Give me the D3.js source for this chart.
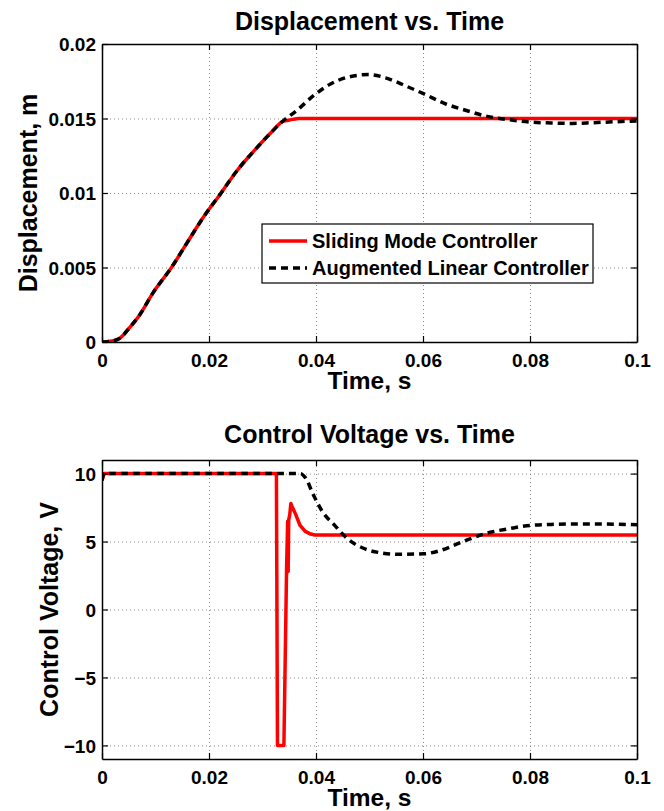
<!DOCTYPE html>
<html>
<head>
<meta charset="utf-8">
<script src="https://cdn.jsdelivr.net/npm/d3@7"></script>
<style>
  body { margin: 0; background: #fff; }
  svg { display: block; font-family: "Liberation Sans", Arial, Helvetica, sans-serif; font-weight: bold; }
</style>
</head>
<body>
<svg id="chart" width="664" height="811"></svg>
<script>
// ---------- data ----------
const xTicks = [0, 0.02, 0.04, 0.06, 0.08, 0.1];
const xTickLabels = ["0", "0.02", "0.04", "0.06", "0.08", "0.1"];
const dispTicks = [0, 0.005, 0.01, 0.015, 0.02];
const dispTickLabels = ["0", "0.005", "0.01", "0.015", "0.02"];
const voltTicks = [-10, -5, 0, 5, 10];
const voltTickLabels = ["\u221210", "\u22125", "0", "5", "10"];
const seriesNames = ["Sliding Mode Controller", "Augmented Linear Controller"];

// displacement, sliding mode
const smcDispT = [0, 0.001, 0.0024, 0.0035, 0.0051, 0.007, 0.0095, 0.0131, 0.0158, 0.019, 0.0222, 0.0253, 0.0285, 0.0317, 0.0336, 0.0348, 0.0356, 0.0368, 0.1];
const smcDispV = [0, 0.00002, 0.0001, 0.0003, 0.00094, 0.0018, 0.00328, 0.00506, 0.0066, 0.0084, 0.00997, 0.01153, 0.01286, 0.01409, 0.01476, 0.01488, 0.01494, 0.015, 0.015];
// displacement, augmented linear
const alcDispT = [0, 0.001, 0.0024, 0.0035, 0.0051, 0.007, 0.0095, 0.0131, 0.0158, 0.019, 0.0222, 0.0253, 0.0285, 0.0317, 0.0336, 0.0364, 0.0396, 0.0428, 0.0459, 0.0499, 0.053, 0.057, 0.0602, 0.0641, 0.0681, 0.072, 0.076, 0.08, 0.0839, 0.0879, 0.0918, 0.0958, 0.1];
const alcDispV = [0, 0.00002, 0.0001, 0.0003, 0.00094, 0.0018, 0.00328, 0.00506, 0.0066, 0.0084, 0.00997, 0.01153, 0.01286, 0.01409, 0.01476, 0.01554, 0.01655, 0.01733, 0.01777, 0.01795, 0.01773, 0.01715, 0.01665, 0.016, 0.01554, 0.01514, 0.01492, 0.01476, 0.0147, 0.01467, 0.01472, 0.01478, 0.01484];

// control voltage, sliding mode
const smcVoltT = [0, 0.0004, 0.0326, 0.0328, 0.034, 0.0345, 0.0347, 0.0348, 0.0349, 0.0351, 0.0353, 0.0355, 0.0362, 0.037, 0.038, 0.039, 0.0398, 0.1];
const smcVoltV = [9.5, 10, 10, -10, -10, 3, 6.5, 2.8, 6.6, 7.0, 7.8, 7.6, 7.0, 6.2, 5.75, 5.55, 5.48, 5.48];
// control voltage, augmented linear
const alcVoltT = [0, 0.0004, 0.0371, 0.038, 0.0396, 0.0412, 0.0435, 0.0459, 0.0491, 0.0523, 0.0554, 0.0602, 0.0633, 0.0665, 0.0697, 0.0728, 0.076, 0.08, 0.0839, 0.0879, 0.0918, 0.0958, 0.1];
const alcVoltV = [9.5, 10, 10, 9.7, 8.36, 7.2, 6.19, 5.2, 4.47, 4.16, 4.06, 4.1, 4.35, 4.84, 5.33, 5.7, 5.94, 6.19, 6.26, 6.3, 6.3, 6.28, 6.23];

// ---------- drawing ----------
const svg = d3.select("#chart");
svg.append("rect").attr("width", 664).attr("height", 811).attr("fill", "#fff");

const RED = "#ff0000";
const DASH = "7,5";
const FONT = "Liberation Sans, Arial, sans-serif";

function panel(opt) {
  const { left, right, top, bottom, yDomain, yTicks, yLabels, title, titleY, ylabel, ylabelX } = opt;
  const w = right - left, h = bottom - top;
  const x = d3.scaleLinear().domain([0, 0.1]).range([0, w]);
  const y = d3.scaleLinear().domain(yDomain).range([h, 0]);
  const g = svg.append("g").attr("transform", `translate(${left},${top})`);

  // grid
  const gx = g.append("g").attr("transform", `translate(0,${h})`)
    .call(d3.axisBottom(x).tickValues(xTicks).tickSize(-h).tickFormat(""));
  const gy = g.append("g")
    .call(d3.axisLeft(y).tickValues(yTicks).tickSize(-w).tickFormat(""));
  [gx, gy].forEach(a => {
    a.select(".domain").remove();
    a.selectAll("line").attr("stroke", "#8a8a8a").attr("stroke-width", 1).attr("stroke-dasharray", "1,3");
  });

  // lines
  const mk = (T, V) => T.map((t, i) => [t, V[i]]);
  const lineLin = d3.line().x(d => x(d[0])).y(d => y(d[1]));
  const lineSmooth = d3.line().x(d => x(d[0])).y(d => y(d[1])).curve(d3.curveMonotoneX);
  const clipId = "clip" + top;
  g.append("clipPath").attr("id", clipId).append("rect").attr("width", w).attr("height", h);
  const plot = g.append("g").attr("clip-path", `url(#${clipId})`);
  plot.append("path").datum(mk(opt.redT, opt.redV))
    .attr("d", opt.redSmooth ? lineSmooth : lineLin)
    .attr("fill", "none").attr("stroke", RED).attr("stroke-width", 3.5).attr("stroke-linejoin", "round");
  plot.append("path").datum(mk(opt.blkT, opt.blkV))
    .attr("d", lineSmooth)
    .attr("fill", "none").attr("stroke", "#000").attr("stroke-width", 3.5).attr("stroke-dasharray", DASH);

  // axes with inward ticks
  const styleAxis = a => {
    a.select(".domain").attr("stroke", "#000").attr("stroke-width", 1.5);
    a.selectAll(".tick line").attr("stroke", "#000").attr("stroke-width", 1.2);
  };
  const bx = g.append("g").attr("transform", `translate(0,${h})`)
    .call(d3.axisBottom(x).tickValues(xTicks).tickSize(-6).tickSizeOuter(0).tickFormat((d, i) => xTickLabels[i]));
  bx.selectAll("text").attr("y", 25).attr("dy", null).attr("font-size", 19).attr("font-weight", "bold")
    .attr("fill", "#000").attr("font-family", FONT);
  styleAxis(bx);
  const tx = g.append("g").call(d3.axisTop(x).tickValues(xTicks).tickSize(-6).tickSizeOuter(0).tickFormat(""));
  styleAxis(tx);
  const ly = g.append("g")
    .call(d3.axisLeft(y).tickValues(yTicks).tickSize(-6).tickSizeOuter(0).tickFormat((d, i) => yLabels[i]));
  ly.selectAll("text").attr("x", -6).attr("dy", "0.36em").attr("font-size", 19).attr("font-weight", "bold")
    .attr("fill", "#000").attr("font-family", FONT);
  styleAxis(ly);
  const ry = g.append("g").attr("transform", `translate(${w},0)`)
    .call(d3.axisRight(y).tickValues(yTicks).tickSize(-6).tickSizeOuter(0).tickFormat(""));
  styleAxis(ry);

  // titles and labels
  svg.append("text").attr("x", left + w / 2).attr("y", titleY).attr("text-anchor", "middle")
    .attr("font-size", 25).text(title);
  svg.append("text").attr("x", left + w / 2).attr("y", bottom + 47).attr("text-anchor", "middle")
    .attr("font-size", 24.5).text("Time, s");
  svg.append("text").attr("transform", `translate(${ylabelX},${top + h / 2}) rotate(-90)`)
    .attr("text-anchor", "middle").attr("font-size", 25).text(ylabel);

  return { g, x, y, w, h };
}

const p1 = panel({
  left: 102, right: 637, top: 44, bottom: 342,
  yDomain: [0, 0.02], yTicks: dispTicks, yLabels: dispTickLabels,
  title: "Displacement vs. Time", titleY: 30, ylabel: "Displacement, m", ylabelX: 37,
  redT: smcDispT, redV: smcDispV, redSmooth: true, blkT: alcDispT, blkV: alcDispV
});

const p2 = panel({
  left: 102, right: 637, top: 460, bottom: 759,
  yDomain: [-11, 11], yTicks: voltTicks, yLabels: voltTickLabels,
  title: "Control Voltage vs. Time", titleY: 443, ylabel: "Control Voltage, V", ylabelX: 58,
  redT: smcVoltT, redV: smcVoltV, redSmooth: false, blkT: alcVoltT, blkV: alcVoltV
});

// legend (top panel)
const lg = svg.append("g").attr("transform", "translate(262,224)");
lg.append("rect").attr("width", 331).attr("height", 59).attr("fill", "#fff").attr("stroke", "#000").attr("stroke-width", 1.2);
const rows = [{ c: RED, d: null, y: 17 }, { c: "#000", d: DASH, y: 44 }];
rows.forEach((r, i) => {
  lg.append("line").attr("x1", 7).attr("x2", 45).attr("y1", r.y).attr("y2", r.y)
    .attr("stroke", r.c).attr("stroke-width", 3.5).attr("stroke-dasharray", r.d);
  lg.append("text").attr("x", 50).attr("y", r.y).attr("dy", "0.36em").attr("font-size", 20).text(seriesNames[i]);
});
</script>
</body>
</html>
